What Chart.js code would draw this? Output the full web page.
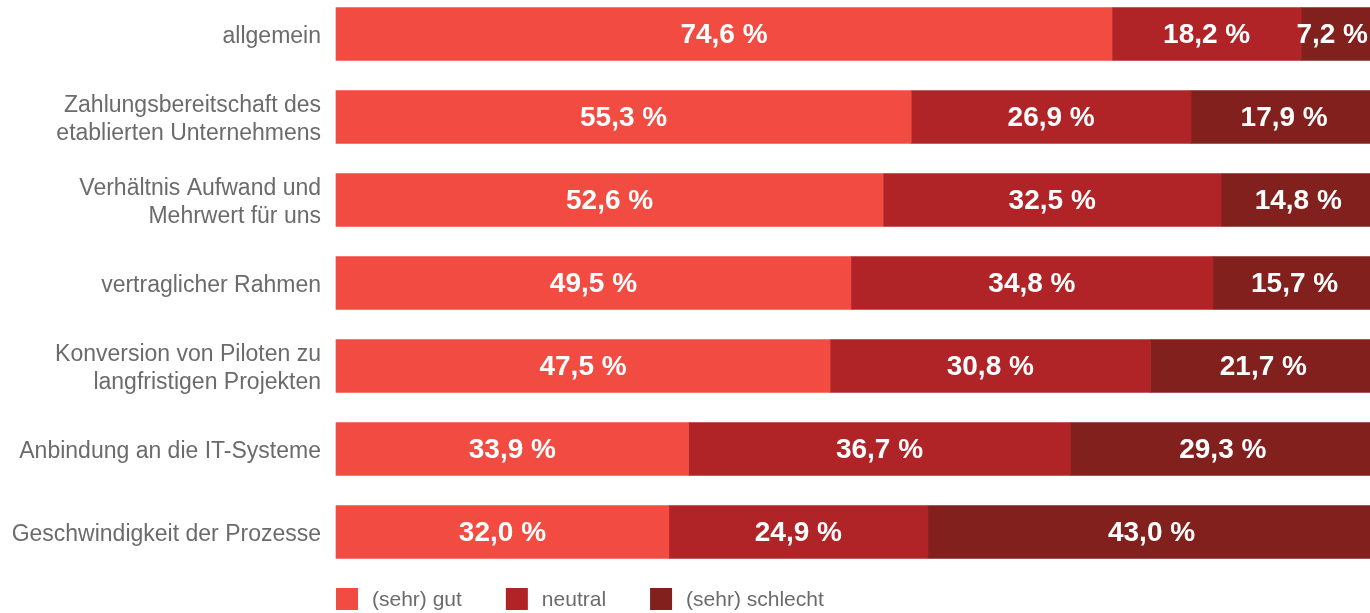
<!DOCTYPE html>
<html>
<head>
<meta charset="utf-8">
<script src="https://cdn.jsdelivr.net/npm/chart.js@4"></script>
<style>
  html, body { margin: 0; padding: 0; background: #fff; }
  #wrap { width: 1370px; height: 613px; }
</style>
</head>
<body>
<div id="wrap"><canvas id="barChart"></canvas></div>
<script>
const categories = [
    'allgemein',
    ['Zahlungsbereitschaft des', 'etablierten Unternehmens'],
    ['Verhältnis Aufwand und', 'Mehrwert für uns'],
    'vertraglicher Rahmen',
    ['Konversion von Piloten zu', 'langfristigen Projekten'],
    'Anbindung an die IT-Systeme',
    'Geschwindigkeit der Prozesse'
];
const seriesNames = ['(sehr) gut', 'neutral', '(sehr) schlecht'];
const gut = [74.6, 55.3, 52.6, 49.5, 47.5, 33.9, 32.0];
const neutral = [18.2, 26.9, 32.5, 34.8, 30.8, 36.7, 24.9];
const schlecht = [7.2, 17.9, 14.8, 15.7, 21.7, 29.3, 43.0];
const colors = ['#f24c42', '#b02427', '#81201c'];

const textGrey = '#6b6b6b';

// Prozentwerte in die Balken schreiben
const valueLabels = {
    id: 'valueLabels',
    afterDatasetsDraw(chart) {
        const ctx = chart.ctx;
        const right = chart.chartArea.right;
        ctx.save();
        ctx.font = 'bold 28px "Liberation Sans", Arial, sans-serif';
        ctx.fillStyle = '#fff';
        ctx.textAlign = 'center';
        ctx.textBaseline = 'middle';
        chart.data.datasets.forEach((ds, i) => {
            chart.getDatasetMeta(i).data.forEach((bar, j) => {
                const txt = ds.data[j].toFixed(1).replace('.', ',') + ' %';
                const w = ctx.measureText(txt).width;
                let x = (bar.base + bar.x) / 2;
                if (x + w / 2 > right - 2) x = right - 2 - w / 2;
                ctx.fillText(txt, x, bar.y + 1);
            });
        });
        ctx.restore();
    }
};

// Legende unten links, bündig mit dem Diagrammbereich
const bottomLegend = {
    id: 'bottomLegend',
    afterDraw(chart) {
        const ctx = chart.ctx;
        const size = 22;
        const top = chart.height - 25;
        let x = chart.chartArea.left;
        ctx.save();
        ctx.font = '21px "Liberation Sans", Arial, sans-serif';
        ctx.textBaseline = 'middle';
        ctx.textAlign = 'left';
        chart.data.datasets.forEach(ds => {
            ctx.fillStyle = ds.backgroundColor;
            ctx.fillRect(x, top, size, size);
            ctx.fillStyle = textGrey;
            ctx.fillText(ds.label, x + size + 14, top + size / 2 + 1);
            x += size + 14 + ctx.measureText(ds.label).width + 44;
        });
        ctx.restore();
    }
};

const ctxBar = document.getElementById('barChart').getContext('2d');
const barChart = new Chart(ctxBar, {
    type: 'bar',
    data: {
        labels: categories,
        datasets: [
            { label: seriesNames[0], data: gut, backgroundColor: colors[0] },
            { label: seriesNames[1], data: neutral, backgroundColor: colors[1] },
            { label: seriesNames[2], data: schlecht, backgroundColor: colors[2] }
        ]
    },
    options: {
        indexAxis: 'y',
        responsive: true,
        maintainAspectRatio: false,
        animation: false,
        layout: { padding: { top: 34, bottom: 81, left: 0, right: 0 } },
        datasets: {
            bar: { barThickness: 53, borderWidth: 0, clip: false }
        },
        scales: {
            x: {
                stacked: true,
                display: false,
                min: 0,
                max: 99.4
            },
            y: {
                stacked: true,
                offset: false,
                grid: { display: false },
                border: { display: false },
                ticks: {
                    color: textGrey,
                    padding: 7,
                    labelOffset: 3,
                    font: { family: '"Liberation Sans", Arial, sans-serif', size: 23, lineHeight: 1.22 }
                },
                afterFit: scale => { scale.width = 336; }
            }
        },
        plugins: {
            legend: { display: false },
            tooltip: { enabled: false }
        }
    },
    plugins: [valueLabels, bottomLegend]
});
</script>
</body>
</html>
